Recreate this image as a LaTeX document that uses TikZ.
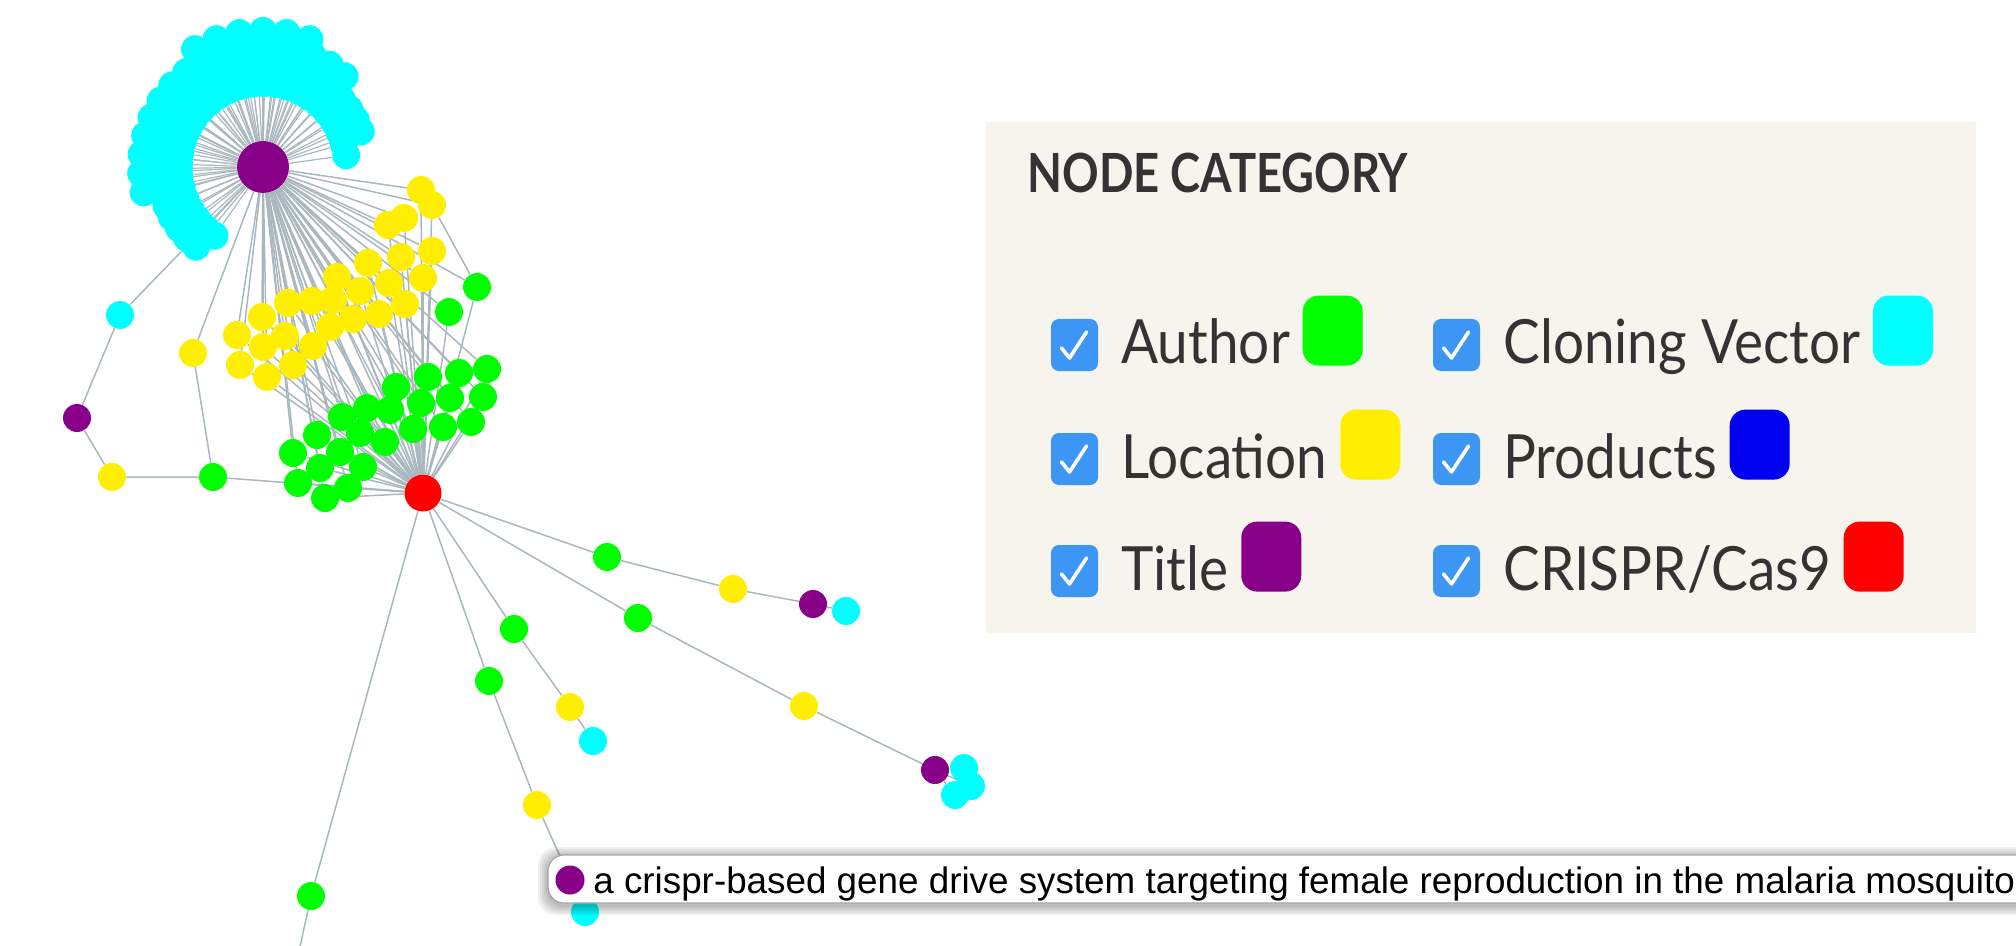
\documentclass[tikz,border=0pt]{standalone}
\usepackage{fontspec}
\setmainfont{Lato}
\newfontfamily\tipfont{Liberation Sans}
\newfontfamily\legfont[FakeStretch=0.9]{Lato}
\newfontfamily\headfont[FakeStretch=0.84]{Lato}
\usetikzlibrary{positioning,calc,backgrounds}
\definecolor{cvcol}{HTML}{00FFFF}
\definecolor{aucol}{HTML}{00FF00}
\definecolor{lccol}{HTML}{FFEE00}
\definecolor{ttcol}{HTML}{880088}
\definecolor{prcol}{HTML}{0000F0}
\definecolor{cacol}{HTML}{FF0000}
\definecolor{edgegray}{HTML}{A9B8BF}
\definecolor{panel}{HTML}{F6F4EC}
\definecolor{tickblue}{HTML}{3E96F4}
\definecolor{ink}{HTML}{333333}

\tikzset{
  gnode/.style={circle,inner sep=0pt,minimum size=14pt,fill=#1},
  link/.style={draw=edgegray,line width=0.75pt},
  spoke/.style={draw=edgegray,line width=0.6pt},
  tickbox/.style={fill=tickblue,rounded corners=4pt,minimum width=23.5pt,minimum height=26pt,inner sep=0pt},
  tickmark/.style={draw=white,line width=1.8pt,line cap=round,line join=round},
  legtext/.style={font=\legfont\fontsize{30.5}{36}\selectfont,text=ink,inner sep=0pt},
  swatch/.style={fill=#1,rounded corners=8pt,minimum width=30pt,minimum height=35pt,inner sep=0pt},
}

% legend row: \legentry{name}{x of box}{baseline}{colour}{label}
\newcommand{\legentry}[5]{%
  \node[tickbox] (#1box) at (#2+23.5,#3-19) {};
  \draw[tickmark] ($(#1box.center)+(-13,3)$) -- ++(8,10) -- ++(17,-26);
  \node[legtext,anchor=base west] (#1) at (#2+70,#3) {#5};
  \node[swatch=#4,anchor=south west] (#1sw) at ([xshift=6pt,yshift=-1pt]#1.base east) {};
}

\begin{document}
\begin{tikzpicture}[x=0.5pt,y=-0.5pt]
  \useasboundingbox (0,0) rectangle (2016,946);
  % the two hubs
  \node[gnode=ttcol,minimum size=26pt] (title) at (263,167) {};
  \node[gnode=cacol,minimum size=18.5pt] (cas) at (423,493) {};
  % cloning vectors round the title, ring by ring: radius/first angle/step/count
  \foreach \r/\a/\s/\n [count=\k] in {84/8/8.1/28, 104/20/7/30, 122/48/9/16, 136/70/10/5} {
    \foreach \j in {0,...,\n} {
      \pgfmathsetmacro\ang{\a+\j*\s}
      \path (title.center) ++(-\ang:\r) node[gnode=cvcol] (cv\k-\j) {};
      \begin{scope}[on background layer]
        \draw[spoke] (title) -- (cv\k-\j);
      \end{scope}
    }}
  % locations and authors shared by the title and the hub
  \foreach \x/\y [count=\i] in {421/190,432/205,404/218,388/225,432/251,401/257,368/263,
      423/278,389/283,337/277,360/291,405/304,379/314,353/319,330/327,333/300,312/301,
      288/303,262/317,237/335,285/336,263/347,313/346,240/365,267/377,293/365}
    {\node[gnode=lccol] (yl\i) at (\x,\y) {};}
  \foreach \x/\y [count=\i] in {477/287,449/312,487/369,459/373,428/377,396/387,483/397,
      450/398,421/403,390/410,367/408,342/417,471/422,443/427,413/429,385/442,360/433,
      317/435,340/452,293/453,320/468,363/467,298/483,348/488,325/498}
    {\node[gnode=aucol] (au\i) at (\x,\y) {};}
  \begin{scope}[on background layer]
    \foreach \i in {1,...,26} {\draw[link] (title) -- (yl\i); \draw[link] (cas) -- (yl\i);}
    \foreach \i in {1,...,25} {\draw[link] (title) -- (au\i); \draw[link] (cas) -- (au\i);}
    \draw[link] (yl2) -- (au1);
  \end{scope}
  % left loop
  \node[gnode=cvcol] (cvA) at (120,315) {};
  \node[gnode=ttcol] (ttA) at (77,418) {};
  \node[gnode=lccol] (lcA) at (112,477) {};
  \node[gnode=aucol] (auA) at (213,477) {};
  \node[gnode=lccol] (lcB) at (193,353) {};
  % branches out of the hub
  \node[gnode=aucol] (auB) at (607,557) {};
  \node[gnode=lccol] (lcC) at (733,589) {};
  \node[gnode=ttcol] (ttB) at (813,604) {};
  \node[gnode=cvcol] (cvB) at (846,611) {};
  \node[gnode=aucol] (auC) at (638,618) {};
  \node[gnode=lccol] (lcD) at (804,706) {};
  \node[gnode=ttcol] (ttC) at (935,770) {};
  \node[gnode=cvcol] (cvC1) at (964,768) {};
  \node[gnode=cvcol] (cvC2) at (971,786) {};
  \node[gnode=cvcol] (cvC3) at (955,795) {};
  \node[gnode=aucol] (auD) at (514,629) {};
  \node[gnode=lccol] (lcE) at (570,707) {};
  \node[gnode=cvcol] (cvD) at (593,741) {};
  \node[gnode=aucol] (auE) at (489,681) {};
  \node[gnode=lccol] (lcF) at (537,805) {};
  \node[gnode=cvcol] (cvE) at (585,912) {};
  \node[gnode=aucol] (auF) at (311,896) {};
  \coordinate (off) at (295,970);
  \begin{scope}[on background layer]
    \draw[link] (title) -- (cvA) -- (ttA) -- (lcA) -- (auA) -- (cas);
    \draw[link] (title) -- (lcB) -- (auA);
    \draw[link] (cas) -- (auB) -- (lcC) -- (ttB) -- (cvB);
    \draw[link] (cas) -- (auC) -- (lcD) -- (ttC) -- (cvC1);
    \draw[link] (ttC) -- (cvC2); \draw[link] (ttC) -- (cvC3);
    \draw[link] (cas) -- (auD) -- (lcE) -- (cvD);
    \draw[link] (cas) -- (auE) -- (lcF) -- (cvE);
    \draw[link] (cas) -- (auF) -- (off);
  \end{scope}
  % tooltip with its soft shadow
  \foreach \g in {1,...,5}
    {\fill[black,opacity=0.06,rounded corners=9pt] (548-2*\g,857-2*\g) rectangle (2080+2*\g,905+2*\g);}
  \draw[gray!70,fill=white,line width=0.6pt,rounded corners=8pt] (548,855) rectangle (2080,903);
  \node[gnode=ttcol,minimum size=14.5pt] (tipdot) at (570,880) {};
  \node[font=\tipfont\fontsize{18.4}{22}\selectfont,inner sep=0pt,anchor=base west] (tiptext) at (593,893)
    {a crispr-based gene drive system targeting female reproduction in the malaria mosquito};
  % legend
  \fill[panel] (986,122) rectangle (1976,633);
  \node[font=\headfont\bfseries\fontsize{27}{32}\selectfont,text=ink,inner sep=0pt,anchor=base west] (legtitle) at (1027,193) {NODE CATEGORY};
  \legentry{author}{1051}{364}{aucol}{Author}
  \legentry{location}{1051}{478}{lccol}{Location}
  \legentry{titlecat}{1051}{590}{ttcol}{Title}
  \legentry{vector}{1433}{364}{cvcol}{Cloning Vector}
  \legentry{products}{1433}{478}{prcol}{Products}
  \legentry{crispr}{1433}{590}{cacol}{CRISPR/Cas9}
\end{tikzpicture}
\end{document}
